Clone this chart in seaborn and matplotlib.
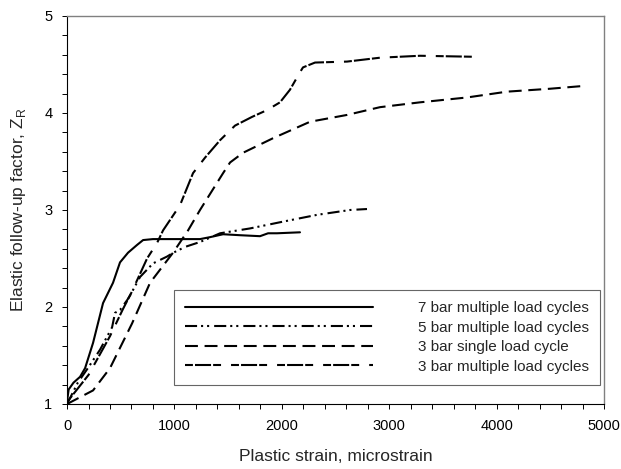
"""Elastic follow-up factor vs plastic strain (seaborn + matplotlib)."""

import matplotlib
matplotlib.use("Agg")
import matplotlib.pyplot as plt
import numpy as np
import pandas as pd
import seaborn as sns
from matplotlib.ticker import MultipleLocator

# series
labels = [
    "7 bar multiple load cycles",
    "5 bar multiple load cycles",
    "3 bar single load cycle",
    "3 bar multiple load cycles",
]

bar7_x = [0, 15, 60, 121, 168, 242, 335, 428, 493, 568, 652, 708, 800, 1000,
          1238, 1331, 1453, 1611, 1797, 1872, 1955, 2169]
bar7_y = [1.03, 1.15, 1.22, 1.28, 1.37, 1.63, 2.04, 2.25, 2.46, 2.56, 2.64, 2.69,
          2.70, 2.70, 2.70, 2.72, 2.75, 2.74, 2.73, 2.76, 2.76, 2.77]

bar5_x = [0, 100, 200, 307, 419, 447, 493, 559, 587, 680, 801, 931, 990, 1100,
          1238, 1425, 1704, 2011, 2328, 2635, 2793]
bar5_y = [1.0, 1.22, 1.38, 1.56, 1.79, 1.94, 1.97, 2.07, 2.12, 2.31, 2.45, 2.52,
          2.56, 2.62, 2.67, 2.76, 2.81, 2.88, 2.95, 3.0, 3.01]

bar3_single_x = [0, 242, 400, 605, 773, 987, 1127, 1238, 1453, 1518, 1639, 1918,
                 2263, 2607, 2914, 3287, 3724, 4097, 4497, 4823]
bar3_single_y = [1.0, 1.14, 1.37, 1.83, 2.25, 2.56, 2.79, 3.0, 3.38, 3.49, 3.59,
                 3.74, 3.91, 3.98, 4.06, 4.11, 4.16, 4.22, 4.25, 4.28]

bar3_multi_x = [0, 200, 400, 521, 600, 745, 838, 894, 1052, 1173, 1285, 1425,
                1564, 1723, 1862, 1983, 2076, 2169, 2197, 2309, 2607, 2914, 3287, 3771]
bar3_multi_y = [1.02, 1.3, 1.7, 1.98, 2.15, 2.5, 2.66, 2.79, 3.05, 3.38, 3.54,
                3.72, 3.87, 3.96, 4.03, 4.11, 4.24, 4.42, 4.47, 4.52, 4.53, 4.57,
                4.59, 4.58]

series = [
    (bar7_x, bar7_y),
    (bar5_x, bar5_y),
    (bar3_single_x, bar3_single_y),
    (bar3_multi_x, bar3_multi_y),
]

df = pd.concat(
    [pd.DataFrame({"strain": x, "zr": y, "case": lab}) for lab, (x, y) in zip(labels, series)],
    ignore_index=True,
)

dash_styles = {
    labels[0]: "",
    labels[1]: (5.8, 1.9, 1.0, 1.9, 1.0, 2.4),
    labels[2]: (6.2, 3.2),
    labels[3]: (3.8, 1.0, 7.7, 1.0, 3.8, 4.8),
}

sns.set_style("ticks")
plt.rcParams["font.family"] = ["Liberation Sans", "DejaVu Sans"]

fig = plt.figure(figsize=(6.21, 4.69), dpi=100)
ax = fig.add_axes([0.108, 0.1386, 0.8646, 0.8273])

sns.lineplot(
    data=df, x="strain", y="zr", style="case", style_order=labels,
    dashes=dash_styles, color="black", linewidth=1.5,
    estimator=None, sort=False, legend=False, ax=ax,
)

ax.set_xlim(0, 5000)
ax.set_ylim(1, 5)
ax.xaxis.set_major_locator(MultipleLocator(1000))
ax.xaxis.set_minor_locator(MultipleLocator(200))
ax.yaxis.set_major_locator(MultipleLocator(1))
ax.yaxis.set_minor_locator(MultipleLocator(0.2))
ax.tick_params(which="both", direction="out", length=3.5, width=0.7,
               labelsize=10.5, colors="black", pad=7)
for side in ["left", "bottom"]:
    ax.spines[side].set_color("black")
    ax.spines[side].set_linewidth(0.8)
for side in ["top", "right"]:
    ax.spines[side].set_visible(True)
    ax.spines[side].set_color("#808080")
    ax.spines[side].set_linewidth(1.0)

ax.set_xlabel("Plastic strain, microstrain", fontsize=12.5, labelpad=12)
ax.set_ylabel("Elastic follow-up factor, Z$_\\mathregular{R}$", fontsize=12.5, labelpad=12)

leg = ax.legend(
    ax.lines[:4], labels, loc="lower right", bbox_to_anchor=(0.9926, 0.049),
    fontsize=11, handlelength=12.3, handletextpad=2.9, labelspacing=0.36,
    frameon=True, fancybox=False, borderpad=0.75, borderaxespad=0,
)
leg.get_frame().set_edgecolor("#404040")
leg.get_frame().set_linewidth(0.8)

fig.savefig("out.png", dpi=100)
